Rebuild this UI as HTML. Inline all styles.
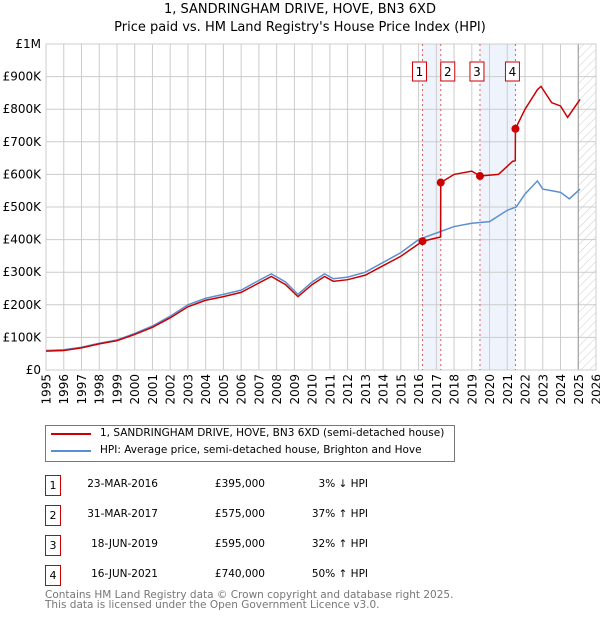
<!DOCTYPE html>
<html><head><meta charset="utf-8"><style>
body{margin:0;background:#fff;font-family:"DejaVu Sans","Liberation Sans",sans-serif;}
#wrap{position:relative;width:600px;height:620px;overflow:hidden}
.t{position:absolute;font-size:10.5px;color:#000;white-space:nowrap}
.box{position:absolute;width:14px;height:19px;border:1px solid #c00;font-size:11px;text-align:center;line-height:19px}
svg text{font-family:"DejaVu Sans","Liberation Sans",sans-serif}
</style></head><body><div id="wrap">
<div class="t" style="left:0;width:600px;text-align:center;top:1px;font-size:13px;line-height:18px">1, SANDRINGHAM DRIVE, HOVE, BN3 6XD<br>Price paid vs. HM Land Registry's House Price Index (HPI)</div>
<svg id="c" width="600" height="410" style="position:absolute;left:0;top:0"></svg>
<div style="position:absolute;left:45px;top:425px;width:408px;height:35px;border:1px solid #777"></div>
<div style="position:absolute;left:51px;top:433px;width:40px;height:2px;background:#c00"></div>
<div class="t" style="left:100px;top:427px">1, SANDRINGHAM DRIVE, HOVE, BN3 6XD (semi-detached house)</div>
<div style="position:absolute;left:51px;top:450px;width:40px;height:2px;background:#5b8fd4"></div>
<div class="t" style="left:100px;top:444px">HPI: Average price, semi-detached house, Brighton and Hove</div>
<div id="rows"></div>
<div class="t" style="left:45px;top:590px;color:#777;line-height:10px">Contains HM Land Registry data © Crown copyright and database right 2025.<br>This data is licensed under the Open Government Licence v3.0.</div>
</div>
<script>
const hpiYears=[1995,1996,1997,1998,1999,2000,2001,2002,2003,2004,2005,2006,2007,2007.7,2008.5,2009.2,2010,2010.7,2011.2,2012,2013,2014,2015,2016,2017,2018,2019,2020,2021,2021.5,2022,2022.7,2023,2024,2024.5,2025.1];
const hpiValues=[60,62,70,82,92,112,135,165,200,220,232,245,275,295,270,232,270,295,280,285,300,330,360,400,420,440,450,455,490,500,540,580,555,545,525,555];
const redYears=[1995,1996,1997,1998,1999,2000,2001,2002,2003,2004,2005,2006,2007,2007.7,2008.5,2009.2,2010,2010.7,2011.2,2012,2013,2014,2015,2016.22,2017.24,2017.25,2018,2019,2019.46,2020.5,2021.3,2021.45,2021.46,2022,2022.7,2022.9,2023.5,2024,2024.4,2025.1];
const redValues=[58,60,68,80,90,109,131,160,194,214,225,238,267,287,262,225,262,287,272,277,291,320,349,395,408,575,600,610,595,600,640,642,740,800,860,870,820,810,775,830];
const saleYears=[2016.22,2017.25,2019.46,2021.46];
const saleValues=[395,575,595,740];
const saleLabels=["1","2","3","4"];
const saleDates=["23-MAR-2016","31-MAR-2017","18-JUN-2019","16-JUN-2021"];
const salePrices=["£395,000","£575,000","£595,000","£740,000"];
const saleHpi=["3% ↓ HPI","37% ↑ HPI","32% ↑ HPI","50% ↑ HPI"];
const yTicks=[0,100,200,300,400,500,600,700,800,900,1000];
const yTickLabels=["£0","£100K","£200K","£300K","£400K","£500K","£600K","£700K","£800K","£900K","£1M"];
const xTicks=[1995,1996,1997,1998,1999,2000,2001,2002,2003,2004,2005,2006,2007,2008,2009,2010,2011,2012,2013,2014,2015,2016,2017,2018,2019,2020,2021,2022,2023,2024,2025,2026];
const X=y=>46+(y-1995)*550/31, Y=v=>370-v*0.326;
const NS="http://www.w3.org/2000/svg", svg=document.getElementById('c');
function mk(t,a,p){const e=document.createElementNS(NS,t);for(const k in a)e.setAttribute(k,a[k]);(p||svg).appendChild(e);return e;}
const defs=mk('defs',{});
const pat=mk('pattern',{id:'h',width:6,height:6,patternUnits:'userSpaceOnUse',patternTransform:'rotate(45)'},defs);
mk('line',{x1:0,y1:0,x2:0,y2:6,stroke:'#ccc','stroke-width':1},pat);
for(let i=0;i<2;i++){const r=mk('rect',{x:X(saleYears[i*2]),y:44,width:X(saleYears[i*2+1])-X(saleYears[i*2]),height:326,fill:'#eef3fc'});

}
const hat=mk('rect',{x:X(2025),y:44,width:596-X(2025),height:326,fill:'url(#h)'});


xTicks.forEach(t=>{const l=mk('line',{x1:X(t),x2:X(t),y1:44,y2:370,stroke:'#ccc'});


const tx=mk('text',{x:0,y:0,'text-anchor':'end','font-size':12,fill:'#000',transform:`translate(${X(t)+4.5},374) rotate(-90)`});tx.textContent=t;

});
yTicks.forEach((t,i)=>{const l=mk('line',{x1:46,x2:596,y1:Y(t),y2:Y(t),stroke:'#ccc'});


const tx=mk('text',{x:41,y:Y(t)+4,'text-anchor':'end','font-size':12,fill:'#000'});tx.textContent=yTickLabels[i];

});
mk('line',{x1:X(2025),x2:X(2025),y1:44,y2:370,stroke:'#999'});
mk('rect',{x:46,y:44,width:550,height:326,fill:'none',stroke:'#ccc'});
saleYears.forEach((s,i)=>{const l=mk('line',{x1:X(s),x2:X(s),y1:44,y2:370,stroke:'#e06060','stroke-dasharray':'2,3'});


const cx=i==1?X(s)+7:X(s)-3;
const r=mk('rect',{x:cx-7,y:62,width:14,height:19,fill:'#fff',stroke:'#c00'});


const t=mk('text',{x:cx,y:76,'text-anchor':'middle','font-size':12});t.textContent=saleLabels[i];});
const hp=mk('polyline',{points:hpiYears.map((y,i)=>X(y)+','+Y(hpiValues[i])).join(' '),fill:'none',stroke:'#5b8fd4','stroke-width':1.5});


const rp=mk('polyline',{points:redYears.map((y,i)=>X(y)+','+Y(redValues[i])).join(' '),fill:'none',stroke:'#c00','stroke-width':1.5});


saleYears.forEach((s,i)=>{const c=mk('circle',{cx:X(s),cy:Y(saleValues[i]),r:4,fill:'#c00'});

});
const rows=document.getElementById('rows');
saleLabels.forEach((l,i)=>{const top=475+i*30;
rows.insertAdjacentHTML('beforeend',`<div class="box" style="left:45px;top:${top}px">${l}</div>
<div class="t" style="left:60px;width:98px;text-align:right;top:${top+3}px">${saleDates[i]}</div>
<div class="t" style="left:190px;width:75px;text-align:right;top:${top+3}px">${salePrices[i]}</div>
<div class="t" style="left:290px;width:78px;text-align:right;top:${top+3}px">${saleHpi[i]}</div>`);});
</script></body></html>
